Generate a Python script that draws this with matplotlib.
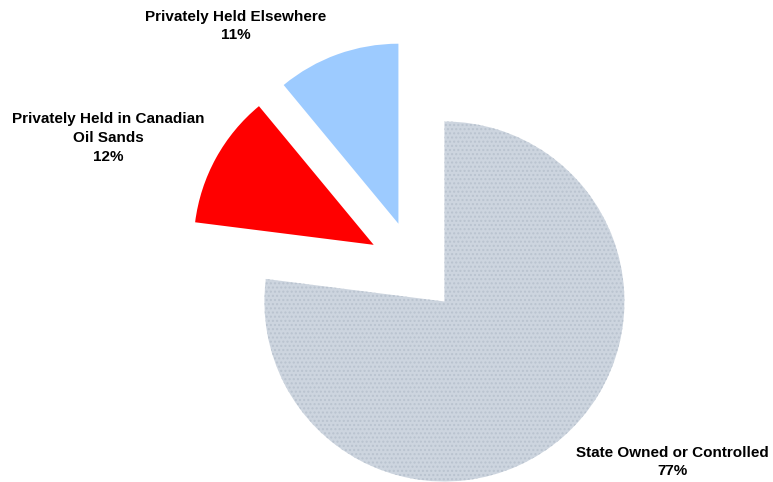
import matplotlib.pyplot as plt
import numpy as np

plt.rcParams['font.family'] = ['Liberation Sans', 'DejaVu Sans']

# Ownership shares, in percent
labels = ['State Owned or Controlled', 'Privately Held in Canadian\nOil Sands', 'Privately Held Elsewhere']
shares = [77, 12, 11]
colors = ['#CDD5DF', '#FF0000', '#9DCBFF']

fig = plt.figure(figsize=(7.73, 4.82), dpi=100)
ax = fig.add_axes([0, 0, 1, 1])

# explode is in data units here (radius 180)
wedges, _ = ax.pie(shares, colors=colors, startangle=90, counterclock=False,
                   explode=[46] * 3, center=(414, 215), radius=180,
                   wedgeprops=dict(linewidth=0))

# dotted fill on the big slice
wedges[0].set_hatch('....')
wedges[0].set_edgecolor('#B9C3CF')
wedges[0].set_linewidth(0)

ax.set_xlim(0, 773)
ax.set_ylim(0, 482)
ax.set_aspect('equal')
ax.axis('off')

# label anchors (x, y from bottom), one per slice
label_pos = [(672, 20), (108, 344), (236, 456)]
for lab, val, (x, y) in zip(labels, shares, label_pos):
    ax.text(x, y, f'{lab}\n{val}%', ha='center', va='center', fontsize=11,
            fontweight='bold', linespacing=1.42)

fig.savefig('out.png', dpi=100)
